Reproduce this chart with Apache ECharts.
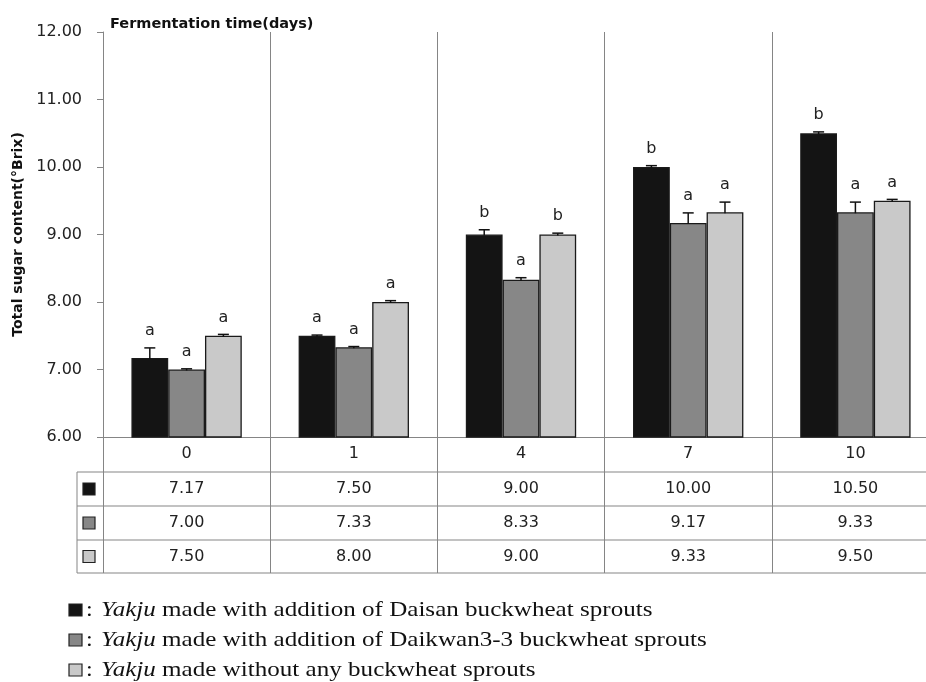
<!DOCTYPE html>
<html>
<head>
<meta charset="utf-8">
<script src="https://cdn.jsdelivr.net/npm/echarts@6/dist/echarts.min.js"></script>
<style>
html,body{margin:0;padding:0;background:#fff;overflow:hidden;width:926px;height:682px;}
#c{width:942px;height:682px;}
</style>
</head>
<body>
<div id="c"></div>
<script>
// ---- data ----
const categories = ['0', '1', '4', '7', '10'];
const daisan  = [7.17, 7.50, 9.00, 10.00, 10.50];
const daikwan = [7.00, 7.33, 8.33, 9.17, 9.33];
const control = [7.50, 8.00, 9.00, 9.33, 9.50];
const daisanErr  = [0.15, 0.01, 0.07, 0.02, 0.02];
const daikwanErr = [0.01, 0.01, 0.03, 0.15, 0.15];
const controlErr = [0.02, 0.02, 0.02, 0.15, 0.02];
const daisanLetters  = ['a', 'a', 'b', 'b', 'b'];
const daikwanLetters = ['a', 'a', 'a', 'a', 'a'];
const controlLetters = ['a', 'a', 'b', 'a', 'a'];
const yMin = 6, yMax = 12, yStep = 1;
const legendTexts = [
  'made with addition of Daisan buckwheat sprouts',
  'made with addition of Daikwan3-3 buckwheat sprouts',
  'made without any buckwheat sprouts'
];

const colors = ['#141414', '#878787', '#c9c9c9'];
const groups = [
  {name: 'Daisan', values: daisan, errs: daisanErr, letters: daisanLetters},
  {name: 'Daikwan3-3', values: daikwan, errs: daikwanErr, letters: daikwanLetters},
  {name: 'Control', values: control, errs: controlErr, letters: controlLetters}
];
const lineColor = '#858585';
const BAR_FRAC = 0.22;

const chart = echarts.init(document.getElementById('c'), null, {renderer: 'canvas'});

const series = [];
groups.forEach((g, k) => {
  series.push({
    type: 'bar',
    name: g.name,
    data: g.values,
    barWidth: (BAR_FRAC * 100) + '%',
    barGap: '0%',
    itemStyle: {color: colors[k], borderColor: '#1a1a1a', borderWidth: 1.3},
    z: 2,
    silent: true
  });
});
groups.forEach((g, k) => {
  series.push({
    type: 'custom',
    name: g.name + ' err',
    data: g.values.map((v, i) => [i, v, g.errs[i]]),
    encode: {x: 0, y: 1},
    z: 5,
    silent: true,
    renderItem: function (params, api) {
      const i = api.value(0), v = api.value(1), e = api.value(2);
      const band = api.size([1, 0])[0];
      const off = (k - 1) * band * BAR_FRAC;
      const base = api.coord([i, v]);
      const top = api.coord([i, v + e]);
      const x = base[0] + off;
      return {
        type: 'group',
        children: [
          {type: 'line', shape: {x1: x, y1: base[1] + 1, x2: x, y2: top[1]}, style: {stroke: '#111', lineWidth: 1.5}},
          {type: 'line', shape: {x1: x - 5.5, y1: top[1], x2: x + 5.5, y2: top[1]}, style: {stroke: '#111', lineWidth: 1.5}},
          {type: 'text', x: x, y: top[1] - 9, style: {text: g.letters[params.dataIndex], fontFamily: 'DejaVu Sans', fontSize: 16, fill: '#222', align: 'center', verticalAlign: 'bottom'}}
        ]
      };
    }
  });
});

chart.setOption({
  animation: false,
  backgroundColor: '#fff',
  title: {
    text: 'Fermentation time(days)',
    left: 105, top: 12,
    textStyle: {fontFamily: 'DejaVu Sans', fontWeight: 'bold', fontSize: 14.5, color: '#111'}
  },
  grid: {left: 103, top: 32, width: 836, height: 405, containLabel: false},
  xAxis: {
    type: 'category',
    data: categories,
    axisLine: {show: true, lineStyle: {color: lineColor, width: 1}},
    axisTick: {show: true, length: 136, interval: 0, lineStyle: {color: lineColor, width: 1}},
    axisLabel: {fontFamily: 'DejaVu Sans', fontSize: 16, color: '#222', margin: 9, interval: 0},
    splitLine: {show: true, interval: 0, lineStyle: {color: lineColor, width: 1}}
  },
  yAxis: {
    type: 'value',
    min: yMin, max: yMax, interval: yStep,
    name: 'Total sugar content(°Brix)',
    nameLocation: 'middle',
    nameGap: 72,
    nameTextStyle: {fontFamily: 'DejaVu Sans', fontWeight: 'bold', fontSize: 14, color: '#111'},
    axisLine: {show: true, lineStyle: {color: lineColor, width: 1}},
    axisTick: {show: true, length: 6, lineStyle: {color: lineColor, width: 1}},
    axisLabel: {fontFamily: 'DejaVu Sans', fontSize: 16, color: '#222', margin: 21, formatter: v => v.toFixed(2)},
    splitLine: {show: false}
  },
  series: series
});

// ---- data table & legend (positions from the chart's own scales) ----
const xAxisObj = chart.getModel().getComponent('xAxis', 0).axis;
const bw = xAxisObj.getBandWidth();
const bottomY = chart.convertToPixel({yAxisIndex: 0}, yMin);
const leftX = chart.convertToPixel({xAxisIndex: 0}, categories[0]) - bw / 2;
const rightX = leftX + bw * categories.length;
const rowLines = [bottomY + 35, bottomY + 69, bottomY + 103, bottomY + 136];
const tableLeft = 77;
const graphics = [];
rowLines.forEach(y => {
  graphics.push({type: 'line', shape: {x1: tableLeft, y1: y, x2: rightX, y2: y}, style: {stroke: lineColor, lineWidth: 1}, silent: true});
});
graphics.push({type: 'line', shape: {x1: tableLeft, y1: rowLines[0], x2: tableLeft, y2: rowLines[3]}, style: {stroke: lineColor, lineWidth: 1}, silent: true});
groups.forEach((g, k) => {
  const cy = (rowLines[k] + rowLines[k + 1]) / 2;
  graphics.push({type: 'rect', shape: {x: 83, y: cy - 6, width: 12, height: 12}, style: {fill: colors[k], stroke: '#222', lineWidth: 1.2}, silent: true});
  g.values.forEach((v, i) => {
    const cx = chart.convertToPixel({xAxisIndex: 0}, categories[i]);
    graphics.push({type: 'text', x: cx, y: cy, style: {text: v.toFixed(2), fontFamily: 'DejaVu Sans', fontSize: 16, fill: '#222', align: 'center', verticalAlign: 'middle'}, silent: true});
  });
});
const legendY = [610, 640, 670];
legendTexts.forEach((t, k) => {
  const cy = legendY[k];
  graphics.push({type: 'rect', shape: {x: 69, y: cy - 6, width: 13, height: 12}, style: {fill: colors[k], stroke: '#222', lineWidth: 1.2}, silent: true});
  graphics.push({type: 'text', x: 86, y: cy, scaleX: 1.1, style: {text: ':', fontFamily: 'Liberation Serif', fontSize: 22, fill: '#111', align: 'left', verticalAlign: 'middle'}, silent: true});
  graphics.push({type: 'text', x: 101, y: cy, scaleX: 1.14, style: {
    text: '{i|Yakju} ' + t,
    fontFamily: 'Liberation Serif', fontSize: 22, fill: '#111', align: 'left', verticalAlign: 'middle',
    rich: {i: {fontFamily: 'Liberation Serif', fontStyle: 'italic', fontSize: 22, fill: '#111'}}
  }, silent: true});
});
chart.setOption({graphic: graphics});
</script>
</body>
</html>
